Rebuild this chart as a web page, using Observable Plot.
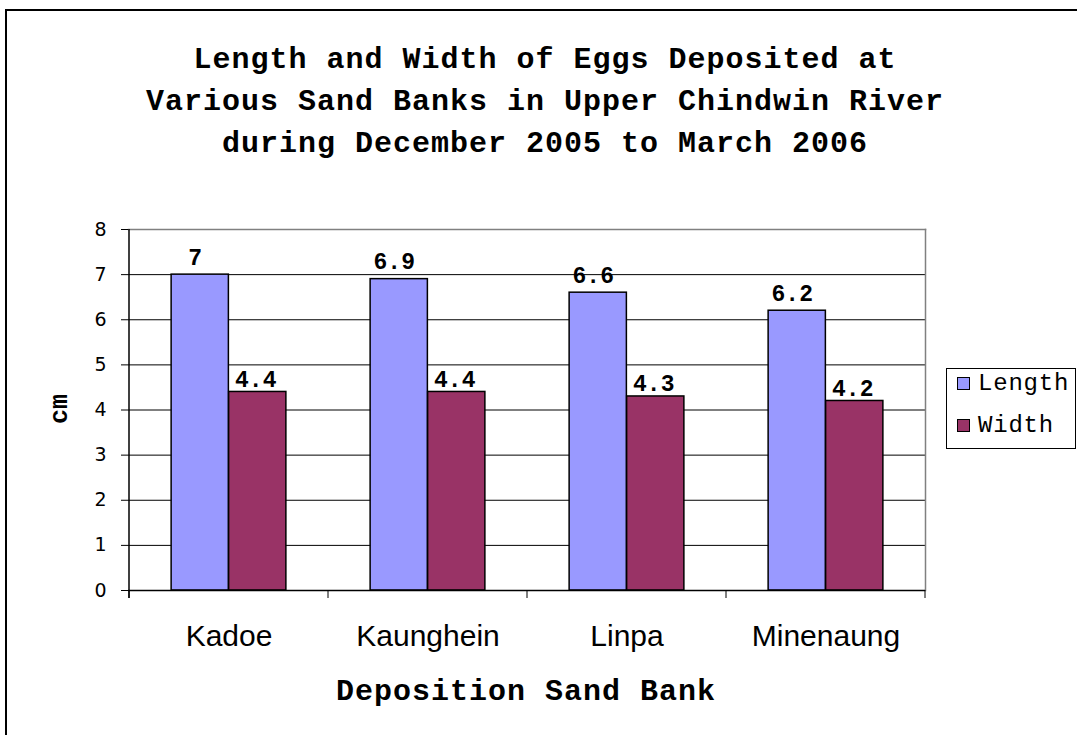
<!DOCTYPE html>
<html>
<head>
<meta charset="utf-8">
<script src="https://cdn.jsdelivr.net/npm/d3@7"></script>
<script src="https://cdn.jsdelivr.net/npm/@observablehq/plot@0.6"></script>
<style>
  html, body { margin: 0; padding: 0; background: #fff; }
  #wrap { position: relative; width: 1077px; height: 735px; overflow: hidden; background: #fff; }
  #frame { position: absolute; left: 5px; top: 9px; width: 1100px; height: 760px; border: 2px solid #000; box-sizing: border-box; }
  .mono { font-family: "Liberation Mono", "Courier New", monospace; font-weight: bold; color: #000; }
  #title { position: absolute; left: 45px; width: 1000px; top: 39px; text-align: center; font-size: 30px; letter-spacing: 1px; line-height: 42px; }
  #xlabel { position: absolute; left: 226px; width: 600px; top: 673px; text-align: center; font-size: 30px; letter-spacing: 1px; line-height: 38px; }
  #ylabel { position: absolute; left: 60px; top: 409px; font-size: 25px; transform: translate(-50%, -50%) rotate(-90deg); white-space: nowrap; }
  #legend { position: absolute; left: 946px; top: 368px; width: 130px; height: 81px; box-sizing: border-box; border: 1px solid #000; background: #fff; }
  .lg { position: absolute; left: 10px; display: flex; align-items: center; font-family: "Liberation Mono", "Courier New", monospace; font-size: 24px; letter-spacing: 0.8px; color: #000; }
  .sw { width: 13px; height: 13px; box-sizing: border-box; border: 1px solid #000; margin-right: 8px; }
  #chart { position: absolute; left: 0; top: 0; }
</style>
</head>
<body>
<div id="wrap">
  <div id="frame"></div>
  <div id="chart"></div>
  <div id="title" class="mono"></div>
  <div id="xlabel" class="mono"></div>
  <div id="ylabel" class="mono"></div>
  <div id="legend"></div>
</div>
<script>
// ---- data ----
const titleLines = ["Length and Width of Eggs Deposited at", "Various Sand Banks in Upper Chindwin River", "during December 2005 to March 2006"];
const xTitle = "Deposition Sand Bank";
const yTitle = "cm";
const categories = ["Kadoe", "Kaunghein", "Linpa", "Minenaung"];
const series = ["Length", "Width"];
const lengthValues = [7, 6.9, 6.6, 6.2];
const widthValues = [4.4, 4.4, 4.3, 4.2];
const yTicks = [0, 1, 2, 3, 4, 5, 6, 7, 8];
const colors = ["#9999FF", "#993366"];

// ---- build table ----
const rows = [];
categories.forEach((c, i) => {
  rows.push({cat: c, series: "Length", value: lengthValues[i]});
  rows.push({cat: c, series: "Width", value: widthValues[i]});
});

// ---- layout ----
const W = 1077, H = 735;
const mLeft = 128, mRight = W - 925, mTop = 229, mBottom = H - 590;
const band = (W - mLeft - mRight) / categories.length;
const barW = 57.5;
const outer = (band - 2 * barW) / 2;
const shift = barW / 2;

const mono = '"Liberation Mono", "Courier New", monospace';

const chart = Plot.plot({
  width: W,
  height: H,
  marginLeft: mLeft,
  marginRight: mRight,
  marginTop: mTop,
  marginBottom: mBottom,
  style: {background: "transparent", overflow: "visible"},
  x: {type: "band", domain: categories, padding: 0, axis: null},
  y: {type: "linear", domain: [0, 8], axis: null},
  color: {domain: series, range: colors},
  marks: [
    Plot.ruleY(yTicks.filter(d => d > 0 && d < 8), {stroke: "#000", strokeWidth: 1}),
    Plot.frame({anchor: "top", stroke: "#808080", strokeWidth: 1.5}),
    Plot.frame({anchor: "right", stroke: "#808080", strokeWidth: 1.5}),
    Plot.barY(rows.filter(d => d.series === "Length"), {x: "cat", y: "value", fill: "series", stroke: "#000", strokeWidth: 1.5, insetLeft: outer, insetRight: band - outer - barW}),
    Plot.barY(rows.filter(d => d.series === "Width"), {x: "cat", y: "value", fill: "series", stroke: "#000", strokeWidth: 1.5, insetLeft: outer + barW, insetRight: outer}),
    Plot.text(rows.filter(d => d.series === "Length"), {x: "cat", y: "value", text: d => String(d.value), dx: -shift - 5, dy: -10, lineAnchor: "bottom", fontFamily: mono, fontWeight: "bold", fontSize: 23, fill: "#000"}),
    Plot.text(rows.filter(d => d.series === "Width"), {x: "cat", y: "value", text: d => String(d.value), dx: shift - 2, dy: -5, lineAnchor: "bottom", fontFamily: mono, fontWeight: "bold", fontSize: 23, fill: "#000"}),
    Plot.axisY(yTicks, {tickSize: 7, tickPadding: 15, fontSize: 19, fontFamily: "DejaVu Sans, Verdana, sans-serif", stroke: "#000", fill: "#000", label: null}),
    Plot.ruleY([0], {stroke: "#000", strokeWidth: 1.5}),
    Plot.axisX(categories, {tickSize: 0, tickPadding: 34, fontSize: 30, fontFamily: '"Liberation Sans", Arial, sans-serif', fill: "#000", label: null}),
  ]
});
document.getElementById("chart").appendChild(chart);

// left axis line and boundary tick marks below the category axis, from the scales
{
  const sx = chart.scale("x"), sy = chart.scale("y");
  const svg = d3.select(chart);
  const y0 = sy.apply(0), y8 = sy.apply(8);
  const xs = categories.map(c => sx.apply(c));
  const edges = xs.concat([xs[xs.length - 1] + sx.bandwidth]);
  const g = svg.append("g");
  g.append("line").attr("x1", xs[0]).attr("x2", xs[0]).attr("y1", y8).attr("y2", y0 + 8)
    .attr("stroke", "#000").attr("stroke-width", 1.5);
  g.selectAll("line.t").data(edges).join("line").attr("class", "t")
    .attr("x1", d => d).attr("x2", d => d)
    .attr("y1", y0).attr("y2", y0 + 8)
    .attr("stroke", "#000").attr("stroke-width", 1);
}

document.getElementById("title").innerHTML = titleLines.join("<br>");
document.getElementById("xlabel").textContent = xTitle;
document.getElementById("ylabel").textContent = yTitle;
const lg = document.getElementById("legend");
series.forEach((s, i) => {
  const row = document.createElement("div");
  row.className = "lg";
  row.style.top = (i === 0 ? 1 : 43) + "px";
  row.innerHTML = `<div class="sw" style="background:${colors[i]}"></div><span>${s}</span>`;
  lg.appendChild(row);
});
</script>
</body>
</html>
